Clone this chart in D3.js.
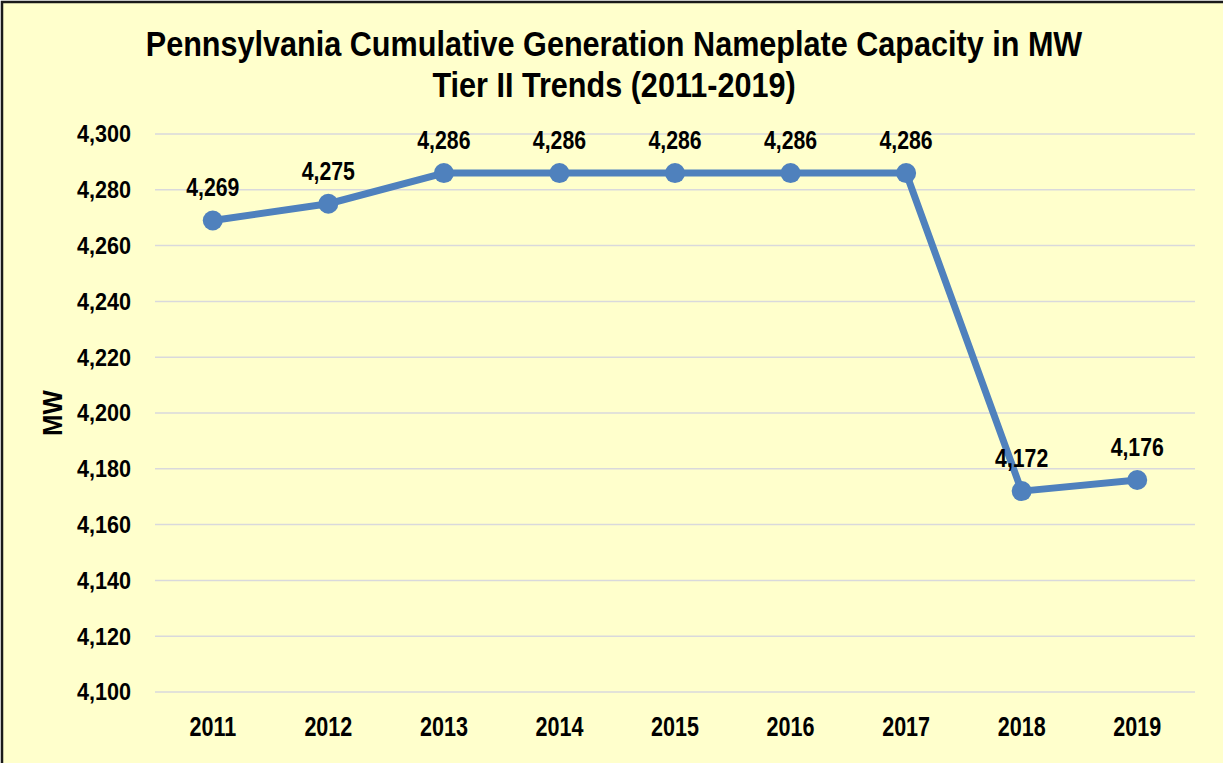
<!DOCTYPE html>
<html>
<head>
<meta charset="utf-8">
<script src="https://cdn.jsdelivr.net/npm/d3@7"></script>
<style>
  body { margin: 0; background: #fff; }
  text { font-family: "Liberation Sans Narrow", "Arial Narrow", "Liberation Sans", sans-serif; font-weight: bold; fill: #000; }
</style>
</head>
<body>
<div id="chart"></div>
<script>
const years = ["2011", "2012", "2013", "2014", "2015", "2016", "2017", "2018", "2019"]
const capacity = [4269, 4275, 4286, 4286, 4286, 4286, 4286, 4172, 4176]
const yTicks = [4100, 4120, 4140, 4160, 4180, 4200, 4220, 4240, 4260, 4280, 4300]

const width = 1223, height = 763
const margin = {left: 155, right: 28, top: 134, bottom: 71}

const svg = d3.select("#chart").append("svg")
    .attr("width", width)
    .attr("height", height)

svg.append("rect")
    .attr("x", 2).attr("y", 2)
    .attr("width", width + 10).attr("height", height + 10)
    .attr("fill", "#FFFFCC")
    .attr("stroke", "#1a1a1a")
    .attr("stroke-width", 2.5)

const x = d3.scaleBand()
    .domain(years)
    .range([margin.left, width - margin.right])
const cx = d => x(d) + x.bandwidth() / 2

const y = d3.scaleLinear()
    .domain([4100, 4300])
    .range([height - margin.bottom, margin.top])

// squeeze text horizontally to fake a narrow bold face
function squeeze(sel, px, py, sx) {
    sel.attr("transform", (d, i) => `translate(${px(d, i)},${py(d, i)}) scale(${sx},1)`)
}

// gridlines
svg.append("g")
    .selectAll("line")
    .data(yTicks)
    .enter()
    .append("line")
    .attr("x1", margin.left)
    .attr("x2", width - margin.right)
    .attr("y1", d => y(d))
    .attr("y2", d => y(d))
    .attr("stroke", "#D9D9DC")
    .attr("stroke-width", 1.5)

// y axis labels
const fmt = d3.format(",")
svg.append("g")
    .selectAll("text")
    .data(yTicks)
    .enter()
    .append("text")
    .attr("dy", "0.35em")
    .attr("text-anchor", "end")
    .style("font-size", "24px")
    .text(d => fmt(d))
    .call(squeeze, () => 131, d => y(d), 0.9)

// x axis labels
svg.append("g")
    .selectAll("text")
    .data(years)
    .enter()
    .append("text")
    .attr("text-anchor", "middle")
    .style("font-size", "28px")
    .text(d => d)
    .call(squeeze, d => cx(d), () => 736, 0.77)

// axis title
svg.append("text")
    .attr("transform", `translate(62,${(y(4100) + y(4300)) / 2}) rotate(-90) scale(0.92,1)`)
    .attr("text-anchor", "middle")
    .style("font-size", "28px")
    .text("MW")

// title
svg.append("text")
    .attr("text-anchor", "middle")
    .style("font-size", "36px")
    .text("Pennsylvania Cumulative Generation Nameplate Capacity in MW")
    .call(squeeze, () => 614, () => 56, 0.85)
svg.append("text")
    .attr("text-anchor", "middle")
    .style("font-size", "36px")
    .text("Tier II Trends (2011-2019)")
    .call(squeeze, () => 614, () => 97, 0.85)

const line = d3.line()
    .x((d, i) => cx(years[i]))
    .y(d => y(d))

svg.append("path")
    .datum(capacity)
    .attr("d", line)
    .attr("fill", "none")
    .attr("stroke", "#4F81BD")
    .attr("stroke-width", 7)
    .attr("stroke-linejoin", "round")

svg.append("g")
    .selectAll("circle")
    .data(capacity)
    .enter()
    .append("circle")
    .attr("cx", (d, i) => cx(years[i]))
    .attr("cy", d => y(d))
    .attr("r", 10)
    .attr("fill", "#4F81BD")

// data labels
svg.append("g")
    .selectAll("text")
    .data(capacity)
    .enter()
    .append("text")
    .attr("text-anchor", "middle")
    .style("font-size", "25px")
    .text(d => fmt(d))
    .call(squeeze, (d, i) => cx(years[i]), d => y(d) - 24, 0.85)
</script>
</body>
</html>
